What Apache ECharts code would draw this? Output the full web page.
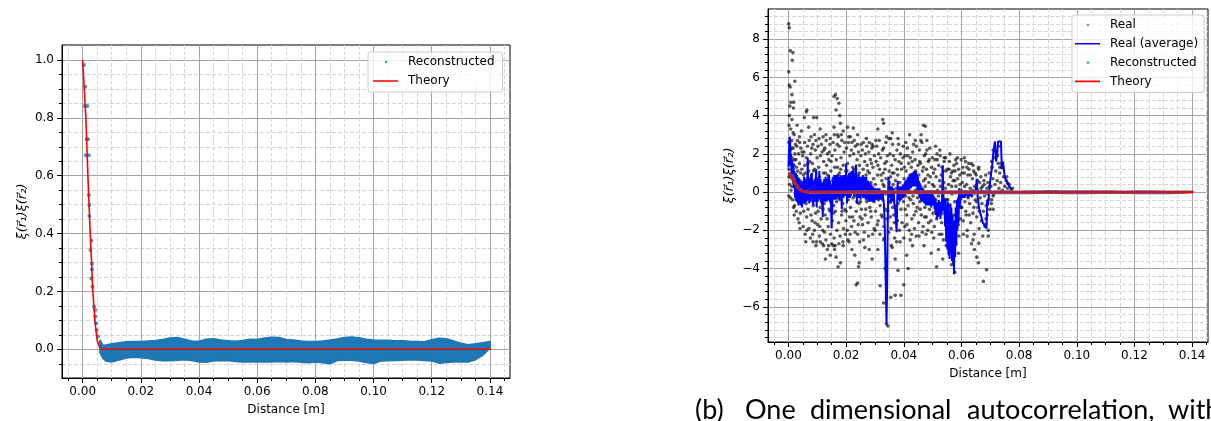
<!DOCTYPE html>
<html><head><meta charset="utf-8">
<script src="https://cdn.jsdelivr.net/npm/echarts@6/dist/echarts.min.js"></script>
<style>html,body{margin:0;padding:0;background:#fff;}#c{width:1211px;height:421px;}</style>
</head><body><div id="c"></div>
<script>
// ---------- tick values ----------
const xMajorTicks = [0, 0.02, 0.04, 0.06, 0.08, 0.10, 0.12, 0.14];
const xMinorTicks = [-0.005, 0.005, 0.01, 0.015, 0.025, 0.03, 0.035, 0.045, 0.05, 0.055, 0.065, 0.07, 0.075, 0.085, 0.09, 0.095, 0.105, 0.11, 0.115, 0.125, 0.13, 0.135, 0.145];
const yLeftMajorTicks = [0, 0.2, 0.4, 0.6, 0.8, 1.0];
const yLeftMinorTicks = [-0.05, 0.05, 0.1, 0.15, 0.25, 0.3, 0.35, 0.45, 0.5, 0.55, 0.65, 0.7, 0.75, 0.85, 0.9, 0.95];
const yRightMajorTicks = [-6, -4, -2, 0, 2, 4, 6, 8];
const yRightMinorTicks = [-7.6, -7.2, -6.8, -6.4, -5.6, -5.2, -4.8, -4.4, -3.6, -3.2, -2.8, -2.4, -1.6, -1.2, -0.8, -0.4, 0.4, 0.8, 1.2, 1.6, 2.4, 2.8, 3.2, 3.6, 4.4, 4.8, 5.2, 5.6, 6.4, 6.8, 7.2, 7.6, 8.4, 8.8, 9.2];

// ---------- Theory ----------
const theoryX = [0, 0.0011, 0.0018, 0.0026, 0.0035, 0.0043, 0.0050, 0.0058, 0.0066, 0.1405];
const theoryY = [1.0, 0.8, 0.6, 0.4, 0.2, 0.09, 0.03, 0.008, 0.0, 0.0];

// ---------- Reconstructed (steep part, individual points) ----------
const reconX = [0.00045, 0.0009, 0.0007, 0.0016, 0.0014, 0.0018, 0.0011, 0.0021, 0.0021, 0.0023, 0.0023, 0.0030, 0.0027, 0.0032, 0.0032, 0.0030, 0.0034, 0.0039, 0.0043, 0.0043, 0.0046, 0.0048, 0.0053, 0.0059];
const reconY = [0.983, 0.908, 0.841, 0.841, 0.726, 0.726, 0.671, 0.671, 0.533, 0.499, 0.461, 0.375, 0.343, 0.297, 0.276, 0.245, 0.216, 0.147, 0.136, 0.113, 0.090, 0.067, 0.044, 0.021];

// ---------- Reconstructed (dense band: upper / lower envelope of the points) ----------
const bandX = [0.0060, 0.0070, 0.0080, 0.0100, 0.0125, 0.0150, 0.0175, 0.0200, 0.0225, 0.0250, 0.0275, 0.0300, 0.0325, 0.0350, 0.0375, 0.0400, 0.0425, 0.0450, 0.0475, 0.0500, 0.0525, 0.0550, 0.0575, 0.0600, 0.0625, 0.0650, 0.0675, 0.0700, 0.0725, 0.0750, 0.0775, 0.0800, 0.0825, 0.0850, 0.0875, 0.0900, 0.0925, 0.0950, 0.0975, 0.1000, 0.1025, 0.1050, 0.1075, 0.1100, 0.1125, 0.1150, 0.1175, 0.1200, 0.1225, 0.1250, 0.1275, 0.1300, 0.1325, 0.1350, 0.1375, 0.1400];
const bandUpper = [0.030, 0.012, 0.014, 0.018, 0.022, 0.025, 0.026, 0.026, 0.028, 0.030, 0.033, 0.038, 0.040, 0.034, 0.028, 0.027, 0.034, 0.036, 0.031, 0.029, 0.027, 0.030, 0.034, 0.033, 0.038, 0.041, 0.040, 0.033, 0.031, 0.028, 0.026, 0.026, 0.028, 0.031, 0.035, 0.040, 0.042, 0.039, 0.034, 0.031, 0.030, 0.030, 0.029, 0.029, 0.027, 0.026, 0.025, 0.032, 0.037, 0.036, 0.028, 0.020, 0.015, 0.018, 0.022, 0.026];
const bandLower = [-0.010, -0.030, -0.040, -0.043, -0.036, -0.029, -0.027, -0.028, -0.031, -0.036, -0.039, -0.039, -0.037, -0.035, -0.038, -0.043, -0.044, -0.040, -0.038, -0.039, -0.041, -0.043, -0.043, -0.042, -0.043, -0.043, -0.041, -0.043, -0.041, -0.044, -0.046, -0.043, -0.046, -0.049, -0.038, -0.037, -0.037, -0.040, -0.045, -0.048, -0.040, -0.039, -0.038, -0.037, -0.035, -0.036, -0.038, -0.040, -0.047, -0.045, -0.043, -0.043, -0.043, -0.035, -0.020, 0.004];

// ---------- Real (individual correlation samples): dense core ----------
const realCore = [
[0.0001,2.6],[0.0003,1.9],[0.0002,1.2],[0.0004,0.4],[0.0001,-0.2],[0.0006,2.2],[0.0008,1.5],[0.0007,0.8],[0.0009,0.1],[0.0011,2.7],[0.0012,1.8],[0.0013,1.0],[0.0014,-0.4],[0.0016,2.3],[0.0017,0.5],[0.0019,1.4],[0.0021,-0.7],[0.0022,2.0],[0.0023,0.9],[0.0024,-0.1],
[0.0026,1.7],[0.0027,-1.0],[0.0029,2.4],[0.0030,0.3],[0.0032,1.1],[0.0033,-1.4],[0.0035,2.0],[0.0036,-0.3],[0.0038,1.5],[0.0040,0.6],[0.0041,-1.1],[0.0043,2.3],[0.0045,-0.6],[0.0046,1.2],[0.0048,0.0],[0.0049,1.9],
[0.0051,-1.8],[0.0052,0.9],[0.0054,2.1],[0.0055,-0.5],[0.0057,1.4],[0.0058,-2.2],[0.0060,0.2],[0.0062,1.8],[0.0063,-1.3],[0.0065,0.7],[0.0066,2.4],[0.0068,-0.9],[0.0070,1.1],[0.0071,-1.9],[0.0073,0.4],[0.0074,1.6],
[0.0076,-2.4],[0.0077,2.0],[0.0079,-0.2],[0.0080,0.9],[0.0082,-1.5],[0.0083,1.5],[0.0085,2.5],[0.0086,-0.7],[0.0088,0.3],[0.0090,-2.0],[0.0091,1.2],[0.0093,2.2],[0.0094,-1.1],[0.0096,0.6],[0.0098,-0.3],[0.0099,1.8],
[0.0101,-1.7],[0.0102,2.4],[0.0104,0.1],[0.0105,1.3],[0.0107,-2.3],[0.0108,0.8],[0.0110,-0.8],[0.0111,1.9],[0.0113,-1.4],[0.0115,0.4],[0.0116,2.1],[0.0118,-0.1],[0.0119,-2.0],[0.0121,1.0],[0.0122,1.6],[0.0124,-0.6],
[0.0126,2.3],[0.0127,-1.2],[0.0129,0.5],[0.0130,-2.5],[0.0132,1.4],[0.0133,-0.4],[0.0135,2.0],[0.0136,0.9],[0.0138,-1.8],[0.0140,1.7],[0.0141,-0.9],[0.0143,0.2],[0.0144,2.5],[0.0146,-2.2],[0.0147,1.1],[0.0149,-0.2],
[0.0151,1.9],[0.0152,-1.5],[0.0154,0.6],[0.0155,2.6],[0.0157,-0.7],[0.0158,-2.4],[0.0160,1.3],[0.0161,2.2],[0.0163,-1.0],[0.0165,0.3],[0.0166,1.7],[0.0168,-2.0],[0.0169,2.5],[0.0171,-0.3],[0.0172,0.9],[0.0174,-1.6],
[0.0176,2.4],[0.0177,1.0],[0.0179,-2.3],[0.0180,0.0],[0.0182,1.8],[0.0184,-1.2],[0.0185,2.7],[0.0187,0.5],[0.0188,-0.6],[0.0190,1.4],[0.0191,-1.9],[0.0193,2.1],[0.0194,0.2],[0.0196,-0.9],[0.0198,1.1],[0.0199,-1.5],
[0.0201,2.3],[0.0202,0.7],[0.0204,-2.0],[0.0205,1.5],[0.0207,-0.4],[0.0208,2.6],[0.0210,0.1],[0.0212,-1.3],[0.0213,1.9],[0.0215,-0.8],[0.0216,1.0],[0.0218,2.2],[0.0219,-1.8],[0.0221,0.4],[0.0223,1.3],[0.0224,-0.3],
[0.0226,2.0],[0.0227,-1.5],[0.0229,0.8],[0.0230,-0.2],[0.0232,2.4],[0.0233,1.2],[0.0235,-1.0],[0.0236,0.3],[0.0238,1.7],[0.0240,-2.2],[0.0241,0.9],[0.0243,2.1],[0.0244,-0.6],[0.0246,1.4],[0.0248,-1.3],[0.0249,0.0],
[0.0251,1.9],[0.0253,-0.9],[0.0254,0.6],[0.0256,2.2],[0.0257,-1.7],[0.0259,1.2],[0.0261,-0.2],[0.0262,0.3],[0.0264,1.6],[0.0266,-1.2],[0.0267,2.0],[0.0269,0.9],[0.0271,-0.5],[0.0273,1.4],
[0.0276,-1.6],[0.0277,0.2],[0.0279,2.1],[0.0281,1.0],[0.0282,-0.8],[0.0284,1.7],[0.0286,0.5],[0.0287,-1.3],[0.0289,2.3],[0.0291,-0.1],[0.0293,1.3],[0.0295,0.7],[0.0297,-1.9],[0.0298,1.9],
[0.0301,0.4],[0.0302,-1.0],[0.0304,1.6],[0.0306,2.4],[0.0307,-0.3],[0.0309,0.9],[0.0311,-1.5],[0.0313,2.0],[0.0314,0.1],[0.0316,1.2],[0.0318,-0.7],[0.0320,1.8],[0.0322,-1.2],[0.0324,0.6],
[0.0326,2.2],[0.0327,-0.4],[0.0329,1.0],[0.0331,-1.8],[0.0332,0.3],[0.0334,1.5],[0.0336,-0.9],[0.0338,2.6],[0.0339,0.7],[0.0341,-1.4],[0.0343,1.9],[0.0345,0.0],[0.0347,-2.1],[0.0349,1.1],
[0.0351,-0.5],[0.0352,2.0],[0.0354,0.8],[0.0356,-1.9],[0.0358,1.4],[0.0359,-0.2],[0.0361,2.5],[0.0363,0.4],[0.0365,-1.2],[0.0366,1.0],[0.0368,-2.4],[0.0370,1.7],[0.0372,-0.7],[0.0374,0.2],
[0.0376,2.2],[0.0378,-1.5],[0.0379,0.9],[0.0381,-0.3],[0.0383,1.6],[0.0385,-2.0],[0.0386,0.5],[0.0388,2.0],[0.0390,-0.9],[0.0392,1.2],[0.0394,-1.6],[0.0395,0.1],[0.0397,1.8],[0.0399,-0.5],
[0.0401,0.7],[0.0403,-1.8],[0.0404,1.9],[0.0406,-0.2],[0.0408,1.1],[0.0410,-1.2],[0.0412,2.3],[0.0413,0.3],[0.0415,-0.7],[0.0417,1.5],[0.0419,-2.0],[0.0421,0.9],[0.0423,1.8],[0.0424,-0.4],
[0.0426,1.3],[0.0428,-1.4],[0.0430,0.4],[0.0431,2.1],[0.0433,-0.6],[0.0435,1.0],[0.0437,-1.9],[0.0439,1.7],[0.0440,0.1],[0.0442,-1.0],[0.0444,2.4],[0.0446,0.6],[0.0448,-0.3],[0.0449,1.4],
[0.0451,-1.6],[0.0452,0.9],[0.0454,2.2],[0.0456,-0.5],[0.0458,1.5],[0.0460,0.2],[0.0461,-1.2],[0.0463,2.6],[0.0465,1.1],[0.0467,-1.8],[0.0469,0.6],[0.0471,1.9],[0.0473,-0.8],[0.0474,0.3],
[0.0476,2.0],[0.0478,-1.3],[0.0479,1.2],[0.0481,0.0],[0.0483,-2.0],[0.0485,1.6],[0.0487,0.5],[0.0489,-0.9],[0.0490,2.3],[0.0492,0.8],[0.0494,-1.5],[0.0496,1.3],[0.0498,-0.2],[0.0499,1.8],
[0.0501,-1.1],[0.0503,1.0],[0.0505,0.3],[0.0506,-1.8],[0.0508,1.7],[0.0510,-0.4],[0.0512,0.8],[0.0514,-1.4],[0.0515,2.0],[0.0517,0.1],[0.0519,-0.8],[0.0521,1.4],[0.0523,-2.2],[0.0524,0.6],
[0.0526,1.9],[0.0528,-0.6],[0.0530,0.9],[0.0531,-1.6],[0.0533,1.3],[0.0535,-0.2],[0.0537,-2.5],[0.0539,0.5],[0.0540,1.6],[0.0542,-1.1],[0.0544,0.2],[0.0546,1.1],[0.0548,-1.9],[0.0549,-0.4],
[0.0551,1.2],[0.0553,-1.3],[0.0555,0.4],[0.0556,-2.6],[0.0558,1.6],[0.0560,-0.7],[0.0562,0.8],[0.0564,-1.9],[0.0565,1.0],[0.0567,-0.1],[0.0569,-3.0],[0.0571,0.6],[0.0573,-1.2],[0.0574,1.4],
[0.0576,-0.5],[0.0578,1.1],[0.0580,-2.2],[0.0581,0.3],[0.0583,1.5],[0.0585,-1.0],[0.0587,0.7],[0.0589,-1.7],[0.0590,1.2],[0.0592,-0.3],[0.0594,0.9],[0.0596,-1.4],[0.0598,0.1],[0.0599,1.7],
[0.0601,-0.8],[0.0603,0.5],[0.0605,1.3],[0.0606,-1.5],[0.0608,0.0],[0.0610,1.0],[0.0612,-0.5],[0.0614,1.6],[0.0616,-1.2],[0.0618,0.4],[0.0620,-2.0],[0.0622,0.9],
[0.0626,1.2],[0.0628,-0.6],[0.0630,0.2],[0.0632,-1.6],[0.0634,1.5],[0.0636,-0.2],[0.0638,0.7],[0.0640,-1.1],[0.0642,1.1],[0.0644,-2.2],[0.0646,0.3],[0.0648,-0.4],
[0.0651,0.9],[0.0653,-1.3],[0.0655,0.1],[0.0657,-0.8],[0.0659,1.2],[0.0661,-1.9],[0.0663,0.5],[0.0665,-0.3],[0.0667,0.8],[0.0669,-1.5],[0.0671,-0.6],[0.0673,0.3],
[0.0676,-1.0],[0.0678,0.6],[0.0680,-0.2],[0.0682,-1.7],[0.0684,0.9],[0.0686,-0.7],[0.0688,0.2],[0.0690,-1.2],[0.0692,0.5],[0.0694,-0.4],[0.0696,1.0],[0.0698,-0.9],
[0.0702,0.3],[0.0704,-0.6],[0.0706,1.3],[0.0709,0.7],[0.0711,-0.1],[0.0713,1.8],[0.0716,0.4],[0.0719,1.1],[0.0722,2.0],[0.0724,0.6],[0.0727,1.5],[0.0730,0.2],[0.0733,1.0],[0.0736,0.5],[0.0739,1.3],[0.0742,0.1],[0.0746,0.8],[0.0750,0.3],[0.0755,0.6],[0.0760,0.2],[0.0766,0.4],[0.0772,0.1],[0.0777,0.2]
];
// ---------- Real: more core samples ----------
const realCore2 = [
[0.0002,0.8],[0.0005,1.6],[0.0007,-0.3],[0.0010,2.3],[0.0012,0.3],[0.0015,1.2],[0.0018,-0.8],[0.0020,1.7],[0.0024,2.5],
[0.0026,-0.4],[0.0028,1.3],[0.0031,2.7],[0.0034,0.7],[0.0037,-1.6],[0.0039,2.6],[0.0042,1.0],[0.0044,-0.2],[0.0047,2.1],
[0.0050,0.5],[0.0053,-1.0],[0.0056,2.6],[0.0059,1.0],[0.0061,-0.6],[0.0064,-2.0],[0.0067,1.5],[0.0069,0.0],[0.0072,2.7],
[0.0075,0.5],[0.0078,-1.2],[0.0081,2.3],[0.0084,-2.2],[0.0087,1.1],[0.0089,-0.2],[0.0092,-1.6],[0.0095,2.7],[0.0097,-2.6],
[0.0100,0.7],[0.0103,-1.0],[0.0106,2.8],[0.0109,-1.8],[0.0112,0.0],[0.0114,2.5],[0.0117,-2.7],[0.0120,-0.9],[0.0123,2.2],
[0.0125,-2.1],[0.0128,1.0],[0.0131,2.7],[0.0134,-1.4],[0.0137,0.0],[0.0139,-2.8],[0.0142,2.1],[0.0145,-1.0],[0.0148,1.6],
[0.0150,-2.7],[0.0153,0.2],[0.0156,-1.1],[0.0159,3.0],[0.0162,-2.8],[0.0164,0.8],[0.0167,-0.5],[0.0170,1.3],[0.0173,2.9],
[0.0175,-2.7],[0.0178,-0.4],[0.0181,1.2],[0.0183,3.0],[0.0186,-1.0],[0.0189,-2.6],[0.0192,0.8],[0.0195,2.6],[0.0197,-2.2],
[0.0200,-1.0],[0.0203,1.1],[0.0206,-2.5],[0.0209,2.9],[0.0211,-0.1],[0.0214,-2.2],[0.0217,0.5],[0.0220,2.6],[0.0222,-1.3],
[0.0225,0.2],[0.0228,2.7],[0.0231,-2.1],[0.0234,0.6],[0.0237,-0.5],[0.0239,2.5],[0.0242,-1.7],[0.0245,1.0],[0.0247,-2.6],
[0.0250,-0.5],[0.0252,2.5],[0.0255,-1.4],[0.0258,0.0],[0.0260,2.6],[0.0263,-2.1],[0.0265,0.7],[0.0268,-0.9],[0.0272,2.4],
[0.0275,1.1],[0.0278,-2.3],[0.0280,2.6],[0.0283,0.3],[0.0285,-1.0],[0.0288,1.5],[0.0292,-2.2],[0.0294,2.4],[0.0296,-0.5],
[0.0300,-2.0],[0.0303,2.7],[0.0305,0.0],[0.0308,-1.7],[0.0310,1.4],[0.0312,-0.4],[0.0315,2.7],[0.0317,-2.2],[0.0321,0.9],
[0.0325,-1.3],[0.0328,0.4],[0.0330,2.3],[0.0333,-2.4],[0.0335,1.2],[0.0337,-0.1],[0.0340,1.6],[0.0344,-1.0],[0.0348,2.8],
[0.0350,0.5],[0.0353,-1.3],[0.0355,2.8],[0.0357,-2.8],[0.0360,1.0],[0.0362,-0.8],[0.0364,1.9],[0.0367,-1.6],[0.0371,0.6],
[0.0375,-2.6],[0.0377,1.2],[0.0380,-0.6],[0.0382,2.5],[0.0384,0.2],[0.0387,-2.6],[0.0391,1.5],[0.0393,-0.2],[0.0398,2.4],
[0.0400,-2.4],[0.0402,1.3],[0.0405,-0.9],[0.0407,2.6],[0.0409,0.0],[0.0411,-1.7],[0.0414,1.9],[0.0418,-0.3],[0.0422,-2.5],
[0.0425,0.8],[0.0427,-2.2],[0.0429,1.6],[0.0432,-0.2],[0.0434,2.5],[0.0436,-1.2],[0.0441,1.1],[0.0443,-2.3],[0.0447,-0.8],
[0.0450,0.5],[0.0453,-2.3],[0.0455,1.6],[0.0457,-0.9],[0.0459,2.7],[0.0462,0.0],[0.0464,-2.1],[0.0468,1.3],[0.0472,-1.3],
[0.0475,0.7],[0.0477,-2.2],[0.0480,2.2],[0.0482,-0.5],[0.0484,0.9],[0.0486,-1.6],[0.0488,1.7],[0.0493,-0.4],[0.0497,-2.1],
[0.0500,0.4],[0.0504,-2.4],[0.0507,1.2],[0.0511,-1.0],[0.0516,1.7],[0.0520,-0.2],
[0.0527,0.3],[0.0532,-2.2],[0.0536,1.1],[0.0541,-0.9],[0.0545,1.8],[0.0547,-2.8],
[0.0552,-0.4],[0.0557,1.2],[0.0561,-2.4],[0.0566,0.3],[0.0570,1.1],[0.0572,-2.0],
[0.0577,0.6],[0.0582,-1.5],[0.0586,1.8],[0.0591,-2.3],[0.0595,0.4],[0.0597,-0.8],
[0.0602,1.0],[0.0607,-2.2],[0.0611,0.3],[0.0615,-1.0],[0.0619,1.3],[0.0623,-0.3],
[0.0627,-1.2],[0.0631,0.9],[0.0635,-2.7],[0.0639,0.1],[0.0643,-0.8],[0.0647,1.0],
[0.0652,-0.5],[0.0656,0.6],[0.0662,-1.0],[0.0668,0.2],[0.0674,-2.3],[0.0679,0.4],[0.0685,-1.4],[0.0691,-0.1],[0.0697,0.3]
];
// ---------- Real: scattered outliers ----------
const realOutliers = [
[0.0001,8.8],[0.0003,8.6],[0.0006,7.4],[0.0015,7.3],[0.0013,6.9],[0.0001,6.3],[0.0022,5.8],[0.0003,5.6],[0.0006,5.5],[0.0012,5.1],[0.0008,4.7],[0.0018,4.7],[0.0005,4.5],[0.0017,4.4],[0.0003,4.0],[0.0012,3.8],[0.0002,3.5],[0.0008,3.3],[0.0016,3.1],[0.0020,3.0],
[0.0064,4.3],[0.0062,4.2],[0.0055,3.9],[0.0087,3.9],[0.0098,3.9],[0.0030,3.5],[0.0070,3.4],[0.0045,3.2],[0.0090,3.0],[0.0078,2.9],[0.0038,2.9],
[0.0085,-2.6],[0.0095,-2.8],[0.0060,-2.6],[0.0040,-1.9],[0.0020,-1.2],
[0.0110,3.3],[0.0130,3.0],[0.0145,2.8],[0.0120,2.9],[0.0110,-2.6],[0.0135,-3.0],[0.0145,-3.3],[0.0122,-2.8],[0.0128,-3.5],
[0.0158,5.0],[0.0163,5.1],[0.0169,4.9],[0.0175,4.65],[0.0165,4.3],[0.0178,4.0],[0.0180,3.6],[0.0158,3.4],[0.0190,3.2],[0.0170,3.0],[0.0160,-3.0],[0.0165,-3.4],[0.0172,-3.9],[0.0180,-3.7],[0.0190,-2.8],[0.0155,-2.8],
[0.0205,3.4],[0.0225,3.35],[0.0215,2.9],[0.0240,3.0],[0.0243,-3.9],[0.0245,-3.7],[0.0240,-4.75],[0.0235,-4.85],[0.0220,-3.0],[0.0210,-2.6],[0.0230,-3.3],
[0.0270,2.8],[0.0290,2.5],[0.0260,-2.5],[0.0280,-3.0],[0.0290,-3.5],[0.0265,-2.9],
[0.0327,3.8],[0.0330,3.6],[0.0310,3.3],[0.0340,2.9],[0.0318,-4.9],[0.0330,-5.8],[0.0340,-5.5],[0.0340,-6.9],[0.0345,-7.0],[0.0310,-3.0],[0.0330,-2.5],[0.0335,-4.0],
[0.0360,3.1],[0.0380,2.8],[0.0380,-4.1],[0.0400,-4.85],[0.0390,-5.4],[0.0355,-5.5],[0.0370,-5.4],[0.0370,-3.5],[0.0360,-2.9],
[0.0420,3.0],[0.0440,2.7],[0.0410,-3.3],[0.0430,-2.8],[0.0415,-4.0],
[0.0468,3.5],[0.0475,3.45],[0.0460,3.0],[0.0480,2.7],[0.0470,-2.8],[0.0495,-3.2],
[0.0510,2.4],[0.0525,2.2],[0.0540,1.8],[0.0520,-3.0],[0.0514,-3.9],[0.0535,-3.5],
[0.0560,2.0],[0.0580,1.7],[0.0565,-3.8],[0.0577,-4.2],[0.0590,-3.2],[0.0580,-2.7],
[0.0610,1.8],[0.0625,1.5],[0.0640,1.4],[0.0640,-2.5],[0.0645,-3.0],[0.0620,-2.3],
[0.0660,1.3],[0.0676,-4.67],[0.0687,-4.06],[0.0659,-3.7],[0.0653,-3.4],[0.0660,-2.67],[0.0693,-2.0],[0.0693,-2.3],[0.0682,-1.8],
[0.0710,2.2],[0.0705,1.6],[0.0733,1.3],[0.0737,1.5],[0.0757,0.8],[0.0760,0.47],[0.0710,-0.2],[0.0705,-0.4],[0.0710,-0.9],[0.0725,1.9],[0.0728,2.4]
];

// ---------- Real (average) ----------
const realAvg = [
[0.0000,1.3],[0.0002,2.2],[0.0004,2.9],[0.0006,2.7],[0.0007,1.4],[0.0009,2.0],[0.0011,0.8],[0.0013,1.7],[0.0015,0.6],[0.0017,1.5],[0.0019,0.2],[0.0021,1.1],
[0.0023,-0.3],[0.0024,0.9],[0.0025,-0.2],[0.0026,1.0],[0.0027,-0.4],[0.0028,0.8],[0.0029,-0.5],[0.0030,0.9],[0.0031,-0.4],[0.0032,0.6],[0.0033,-0.6],[0.0034,0.5],[0.0035,-0.7],[0.0036,0.7],[0.0037,-0.4],[0.0038,0.3],[0.0039,-0.6],[0.0040,0.5],[0.0041,-0.3],[0.0042,0.6],[0.0043,-0.7],[0.0044,0.2],[0.0045,-0.5],[0.0046,0.4],[0.0047,-0.8],[0.0048,0.3],[0.0049,-0.4],[0.0050,0.5],[0.0051,-0.5],[0.0052,0.6],[0.0053,-0.3],[0.0054,0.8],[0.0055,-0.6],[0.0056,0.5],[0.0057,-0.4],[0.0058,0.6],[0.0059,-0.5],[0.0060,0.7],[0.0061,-0.3],[0.0062,0.5],[0.0063,-0.5],[0.0064,0.6],[0.0065,-0.2],[0.0066,0.9],[0.0067,1.8],[0.0068,0.3],[0.0069,0.8],[0.0070,-0.4],[0.0071,0.5],[0.0072,-0.6],[0.0073,0.6],[0.0074,-0.3],[0.0075,0.7],[0.0076,-0.5],[0.0077,0.8],[0.0078,-0.2],[0.0079,0.9],[0.0080,0.1],[0.0081,1.0],[0.0082,-0.3],[0.0083,0.6],[0.0084,-0.6],[0.0085,0.4],[0.0086,-0.7],[0.0087,0.5],[0.0088,-0.4],[0.0089,0.6],[0.0090,-0.3],[0.0091,0.7],[0.0092,-0.5],[0.0093,0.5],[0.0094,-0.2],[0.0095,0.8],[0.0096,1.2],[0.0097,-0.3],[0.0098,-0.8],[0.0099,0.4],[0.0100,-0.4],[0.0101,0.6],[0.0102,-0.5],[0.0103,0.5],[0.0104,-0.3],[0.0105,0.7],[0.0106,0.2],[0.0107,1.1],[0.0108,-0.2],[0.0109,0.6],[0.0110,-0.4],[0.0111,0.7],[0.0112,-0.5],[0.0113,0.4],[0.0114,-0.6],[0.0115,0.5],[0.0116,-0.7],[0.0117,0.3],[0.0118,-0.8],[0.0119,-1.3],[0.0120,0.2],[0.0121,-0.4],[0.0122,0.6],[0.0123,-0.3],[0.0124,0.7],[0.0125,-0.5],[0.0126,0.6],[0.0128,-0.4],[0.0129,0.8],[0.0131,-0.5],[0.0132,0.6],[0.0134,-0.3],[0.0135,0.7],[0.0137,-0.4],[0.0138,0.8],[0.0140,-0.3],[0.0141,0.9],[0.0143,-0.5],[0.0144,0.6],[0.0146,-0.6],[0.0147,0.4],[0.0148,-0.9],[0.0150,-1.9],[0.0151,-0.2],[0.0152,-1.0],[0.0153,0.5],[0.0154,-0.3],[0.0155,0.8],[0.0156,-0.2],[0.0157,0.7],[0.0158,-0.4],[0.0159,0.9],[0.0160,-0.3],[0.0161,0.8],[0.0162,-0.2],[0.0163,0.6],[0.0164,-0.4],[0.0165,0.9],[0.0166,-0.1],[0.0167,0.8],[0.0168,-0.3],[0.0169,0.7],[0.0170,-0.2],[0.0171,0.9],[0.0172,0.0],[0.0173,0.8],[0.0174,-0.3],[0.0175,0.7],[0.0176,-0.4],[0.0177,0.6],[0.0178,-0.2],[0.0179,0.8],[0.0180,-0.3],[0.0181,0.9],[0.0182,0.0],[0.0183,0.7],[0.0184,-0.4],[0.0185,-0.9],[0.0186,0.3],[0.0187,-0.2],[0.0188,0.8],[0.0189,-0.1],[0.0190,0.9],[0.0191,-0.3],[0.0192,0.7],[0.0193,-0.2],[0.0194,0.8],[0.0195,0.0],[0.0196,0.9],[0.0197,-0.2],[0.0198,0.7],[0.0199,0.1],[0.0200,1.5],[0.0201,0.2],[0.0202,0.8],[0.0203,-0.6],[0.0204,0.5],[0.0205,-0.2],[0.0206,0.8],[0.0207,-0.3],[0.0208,0.9],[0.0209,0.0],[0.0210,1.0],[0.0211,-0.1],[0.0212,0.8],[0.0213,-0.3],[0.0214,0.9],[0.0215,0.0],[0.0216,1.0],[0.0217,-0.2],[0.0218,0.9],[0.0219,0.0],[0.0220,1.1],[0.0221,-0.1],[0.0222,0.9],[0.0223,0.1],[0.0225,1.25],[0.0226,0.0],[0.0227,0.9],[0.0228,-0.2],[0.0229,1.0],[0.0230,0.0],[0.0231,0.8],[0.0232,-0.1],[0.0233,0.9],[0.0234,1.45],[0.0235,0.1],[0.0236,0.7],[0.0237,-0.3],[0.0238,-0.6],[0.0239,0.6],[0.0240,-0.2],[0.0241,0.8],[0.0242,-0.3],[0.0243,0.9],[0.0244,-0.1],[0.0245,0.8],[0.0246,-0.2],[0.0247,0.7],[0.0248,-0.3],[0.0249,0.8],[0.0250,-0.4],[0.0252,0.7],[0.0253,-0.2],[0.0255,0.8],[0.0256,-0.1],[0.0258,0.9],[0.0259,-0.3],[0.0261,0.7],[0.0262,-0.2],[0.0264,0.8],[0.0265,-0.3],[0.0267,0.7],[0.0268,-0.4],[0.0270,0.8],[0.0271,-0.3],[0.0273,0.6],[0.0274,-0.4],[0.0276,0.6],[0.0277,-0.5],[0.0279,0.5],[0.0280,-0.5],[0.0282,0.5],[0.0283,-0.4],[0.0285,0.4],[0.0286,-0.5],[0.0288,0.4],[0.0289,-0.4],[0.0291,0.3],[0.0292,-0.5],[0.0294,0.3],[0.0295,-0.5],[0.0297,0.2],[0.0298,-0.5],[0.0300,0.2],[0.0301,-0.4],[0.0303,0.2],[0.0304,-0.4],[0.0306,0.2],[0.0307,-0.3],[0.0309,0.2],[0.0310,-0.4],[0.0312,0.1],[0.0313,-0.4],[0.0315,0.2],[0.0316,-0.3],[0.0318,0.1],[0.0319,-0.4],[0.0321,0.1],[0.0322,-0.4],[0.0324,0.0],[0.0325,-0.3],[0.0327,0.0],[0.0328,-0.3],[0.0331,-0.6],
[0.0334,-1.8],[0.0337,-4.5],[0.0340,-6.9],[0.0342,-5.0],[0.0344,-2.0],[0.0346,0.3],[0.0347,0.8],
[0.0349,-0.3],[0.0350,0.4],[0.0352,-0.2],[0.0353,0.3],[0.0355,-0.6],[0.0356,0.2],[0.0358,-0.4],[0.0359,0.3],[0.0361,-0.5],[0.0362,0.2],[0.0364,-0.3],[0.0365,0.2],[0.0367,-0.6],[0.0370,-0.9],[0.0373,-1.6],[0.0375,-2.1],[0.0377,-0.6],[0.0379,0.6],[0.0380,-0.4],[0.0382,0.3],[0.0383,-0.4],[0.0385,0.3],[0.0386,-0.5],[0.0388,0.2],[0.0389,-0.4],[0.0391,0.3],[0.0392,-0.4],[0.0394,0.3],[0.0395,-0.3],[0.0397,0.4],[0.0398,-0.3],[0.0400,0.4],[0.0401,-0.2],[0.0403,0.5],[0.0404,-0.2],[0.0406,0.6],[0.0407,-0.1],[0.0409,0.6],[0.0410,0.0],[0.0412,0.7],[0.0413,0.0],[0.0415,0.8],[0.0416,0.1],[0.0418,0.8],[0.0419,0.1],[0.0421,0.9],[0.0422,0.2],[0.0424,0.9],[0.0425,0.2],[0.0427,1.0],[0.0428,0.3],[0.0430,1.0],[0.0431,0.3],[0.0433,1.0],[0.0434,0.3],[0.0436,1.1],[0.0437,0.4],[0.0439,1.0],[0.0440,0.3],[0.0442,1.1],[0.0444,0.4],[0.0446,0.9],[0.0447,0.1],[0.0449,0.8],[0.0450,0.0],[0.0452,0.6],[0.0453,-0.2],[0.0455,0.5],[0.0456,-0.3],[0.0458,0.4],[0.0459,-0.4],[0.0461,0.3],[0.0462,-0.5],[0.0464,0.2],[0.0465,-0.5],[0.0467,0.2],[0.0468,-0.5],[0.0470,0.1],[0.0471,-0.6],[0.0473,0.1],[0.0474,-0.6],[0.0476,0.0],[0.0477,-0.7],[0.0479,0.0],[0.0480,-0.6],[0.0482,-0.1],[0.0483,-0.7],[0.0485,0.0],[0.0486,-0.6],[0.0488,0.1],[0.0489,-0.7],[0.0491,0.0],[0.0492,-0.6],[0.0494,0.1],[0.0495,-0.8],[0.0497,0.0],[0.0498,-0.6],[0.0500,0.1],[0.0501,-0.7],
[0.0504,-0.2],[0.0507,-0.9],[0.0509,-0.3],[0.0511,-1.2],[0.0513,-0.5],[0.0515,-1.4],[0.0517,-0.6],[0.0519,-1.3],[0.0521,-0.4],[0.0523,-1.1],[0.0525,-0.5],[0.0527,-1.4],[0.0529,-0.6],[0.0531,-1.2],[0.0533,-0.3],[0.0535,1.4],[0.0537,-0.2],[0.0539,-1.0],[0.0541,-0.3],[0.0543,-1.8],[0.0545,-0.4],[0.0547,-2.6],[0.0549,-0.7],[0.0551,-3.0],[0.0553,-0.5],[0.0555,-3.3],[0.0557,-1.0],[0.0559,-3.5],[0.0561,-0.6],[0.0563,-3.2],[0.0565,-0.8],[0.0567,-3.6],[0.0569,-1.2],[0.0571,-3.8],[0.0573,-1.5],[0.0574,-4.3],[0.0576,-2.0],[0.0578,-3.4],[0.0580,-0.8],[0.0582,-2.8],[0.0584,-0.4],[0.0586,-2.0],[0.0588,-0.3],[0.0590,-1.6],[0.0592,0.2],[0.0594,-0.8],[0.0596,0.0],[0.0599,-0.4],[0.0602,0.1],[0.0605,-0.3],[0.0608,0.0],[0.0611,-0.3],[0.0614,0.1],[0.0617,-0.2],[0.0620,0.0],[0.0623,-0.3],[0.0626,0.0],[0.0629,-0.2],[0.0632,0.1],[0.0635,-0.2],[0.0638,0.0],[0.0641,-0.1],[0.0644,0.1],[0.0647,-0.1],[0.0650,0.2],[0.0653,0.7],[0.0656,-0.2],[0.0659,-0.6],[0.0662,-0.9],[0.0665,-1.1],[0.0668,-1.2],[0.0671,-1.4],[0.0674,-1.6],[0.0677,-1.7],[0.0687,-1.9],[0.0689,-0.4],[0.0692,-0.7],[0.0695,-0.2],[0.0699,0.5],[0.0703,1.0],[0.0706,1.3],[0.0710,2.0],[0.0716,2.65],[0.0720,1.6],[0.0724,2.0],[0.0727,2.65],[0.0737,2.65],[0.0740,1.2],[0.0744,1.6],[0.0750,0.8],[0.0756,0.6],[0.0762,0.4],[0.0768,0.26],[0.0774,0.15]
];

const captionWords = ['(b)', 'One', 'dimensional', 'autocorrelation,', 'with'];
const captionLeft = [695, 745, 810, 967, 1168];

// ---------- build chart ----------
const FONT = 'DejaVu Sans';
const C0 = '#1f77b4';
const theoryPts = theoryX.map((x, i) => [x, theoryY[i]]);
const reconPts = reconX.map((x, i) => [x, reconY[i]]);
const realPts = realCore.concat(realCore2, realOutliers);

function majorXAxis(grid, min, max) {
  return {
    type: 'value', gridIndex: grid, min: min, max: max, position: 'bottom',
    axisLine: { show: true, onZero: false, lineStyle: { color: '#000', width: 1 } },
    axisTick: { show: true, customValues: xMajorTicks, length: 5, lineStyle: { color: '#000', width: 1 } },
    axisLabel: { customValues: xMajorTicks, formatter: v => v.toFixed(2), fontFamily: FONT, fontSize: 12, color: '#000', margin: 8 },
    splitLine: { show: true, lineStyle: { color: '#a4a4a4', width: 1 } },
    name: 'Distance [m]', nameLocation: 'middle', nameGap: 26, nameMoveOverlap: false,
    nameTextStyle: { fontFamily: FONT, fontSize: 12, color: '#000' }
  };
}
function minorXAxis(grid, min, max) {
  return {
    type: 'value', gridIndex: grid, min: min, max: max, position: 'bottom',
    axisLine: { show: false, onZero: false },
    axisTick: { show: true, customValues: xMinorTicks, length: 3, lineStyle: { color: '#000', width: 1 } },
    axisLabel: { show: false },
    splitLine: { show: true, lineStyle: { color: '#d6d6d6', width: 1, type: [4, 2] } }
  };
}
function majorYAxis(grid, min, max, ticks, fmt, gap) {
  return {
    type: 'value', gridIndex: grid, min: min, max: max, position: 'left',
    axisLine: { show: true, onZero: false, lineStyle: { color: '#000', width: 1 } },
    axisTick: { show: true, customValues: ticks, length: 5, lineStyle: { color: '#000', width: 1 } },
    axisLabel: { customValues: ticks, formatter: fmt, fontFamily: FONT, fontSize: 12, color: '#000', margin: 8 },
    splitLine: { show: true, lineStyle: { color: '#a4a4a4', width: 1 } },
    name: 'ξ(r\u20D7\u2081)ξ(r\u20D7\u2082)', nameLocation: 'middle', nameGap: gap, nameRotate: 90, nameMoveOverlap: false,
    nameTextStyle: { fontFamily: FONT, fontSize: 13, color: '#000', fontStyle: 'italic' }
  };
}
function minorYAxis(grid, min, max, ticks) {
  return {
    type: 'value', gridIndex: grid, min: min, max: max, position: 'left',
    axisLine: { show: false, onZero: false },
    axisTick: { show: true, customValues: ticks, length: 3, lineStyle: { color: '#000', width: 1 } },
    axisLabel: { show: false },
    splitLine: { show: true, lineStyle: { color: '#d6d6d6', width: 1, type: [4, 2] } }
  };
}
function bandSeries(xi, yi, lw) {
  return {
    type: 'custom', xAxisIndex: xi, yAxisIndex: yi, data: [[bandX[0], bandUpper[0]]], clip: true, silent: true, z: 4,
    renderItem: function (params, api) {
      const pts = [];
      for (let i = 0; i < bandX.length; i++) pts.push(api.coord([bandX[i], bandUpper[i]]));
      for (let i = bandX.length - 1; i >= 0; i--) pts.push(api.coord([bandX[i], bandLower[i]]));
      return { type: 'polygon', shape: { points: pts }, style: { fill: C0, stroke: C0, lineWidth: lw, lineJoin: 'round' } };
    }
  };
}
const BOX = 'M0 0L0.01 0Z M30 14L29.99 14Z ';
const dotIcon = 'path://' + BOX + 'M11.7 7a1.3 1.3 0 1 0 2.6 0a1.3 1.3 0 1 0 -2.6 0Z';
const lineIcon = 'path://' + BOX + 'M0 6.2L25 6.2L25 7.8L0 7.8Z';

const fmtL = v => v.toFixed(1);
const fmtR = v => (v < 0 ? '\u2212' : '') + Math.abs(v);

const option = {
  animation: false,
  backgroundColor: '#fff',
  grid: [
    { left: 62, top: 45, width: 448, height: 333, show: true, borderColor: '#000', borderWidth: 1, outerBoundsMode: 'none', containLabel: false },
    { left: 768, top: 9, width: 440, height: 333, show: true, borderColor: '#000', borderWidth: 1, outerBoundsMode: 'none', containLabel: false }
  ],
  xAxis: [
    majorXAxis(0, -0.0071, 0.1469),
    minorXAxis(0, -0.0071, 0.1469),
    majorXAxis(1, -0.0071, 0.1455),
    minorXAxis(1, -0.0071, 0.1455)
  ],
  yAxis: [
    majorYAxis(0, -0.0992, 1.0519, yLeftMajorTicks, fmtL, 33),
    minorYAxis(0, -0.0992, 1.0519, yLeftMinorTicks),
    majorYAxis(1, -7.84, 9.58, yRightMajorTicks, fmtR, 32),
    minorYAxis(1, -7.84, 9.58, yRightMinorTicks)
  ],
  legend: [
    {
      orient: 'vertical', left: 368, top: 52, itemWidth: 30, itemHeight: 14, itemGap: 5, selectedMode: false,
      padding: [3, 8, 4, 5], backgroundColor: 'rgba(255,255,255,0.8)', borderColor: '#cccccc', borderWidth: 1, borderRadius: 3,
      textStyle: { fontFamily: FONT, fontSize: 12, color: '#000', lineHeight: 14 },
      data: [{ name: 'Reconstructed', icon: dotIcon }, { name: 'Theory', icon: lineIcon }]
    },
    {
      orient: 'vertical', left: 1072, top: 15, itemWidth: 30, itemHeight: 14, itemGap: 4.8, selectedMode: false,
      padding: [3, 6, 4, 3], backgroundColor: 'rgba(255,255,255,0.8)', borderColor: '#cccccc', borderWidth: 1, borderRadius: 3,
      textStyle: { fontFamily: FONT, fontSize: 12, color: '#000', lineHeight: 14 },
      data: [{ name: 'Real', icon: dotIcon, itemStyle: { color: '#777' } }, { name: 'Real (average)', icon: lineIcon }, { name: 'Reconstructed', icon: dotIcon }, { name: 'Theory', icon: lineIcon }]
    }
  ],
  graphic: captionWords.map((w, i) => ({
    type: 'text', left: captionLeft[i], top: 397,
    style: { text: w, font: '27px Lato', fill: '#000' }
  })),
  series: [
    // left panel
    bandSeries(0, 0, 2),
    { name: 'Reconstructed', type: 'scatter', xAxisIndex: 0, yAxisIndex: 0, data: reconPts, symbol: 'circle', symbolSize: 4, itemStyle: { color: C0 }, z: 4 },
    { name: 'Theory', type: 'line', xAxisIndex: 0, yAxisIndex: 0, data: theoryPts, symbol: 'none', lineStyle: { color: '#ff0000', width: 1.6 }, itemStyle: { color: '#ff0000' }, z: 5 },
    // right panel
    { name: 'Real', type: 'scatter', xAxisIndex: 2, yAxisIndex: 2, data: realPts, symbol: 'circle', symbolSize: 3.6, itemStyle: { color: 'rgba(0,0,0,0.8)' }, z: 2 },
    { name: 'Real (average)', type: 'line', xAxisIndex: 2, yAxisIndex: 2, data: realAvg, symbol: 'none', lineStyle: { color: '#0000ff', width: 2 }, itemStyle: { color: '#0000ff' }, z: 3 },
    bandSeries(2, 2, 2.5),
    { name: 'Reconstructed', type: 'scatter', xAxisIndex: 2, yAxisIndex: 2, data: reconPts, symbol: 'circle', symbolSize: 3, itemStyle: { color: C0 }, z: 4 },
    { name: 'Theory', type: 'line', xAxisIndex: 2, yAxisIndex: 2, data: theoryPts, symbol: 'none', lineStyle: { color: '#ff0000', width: 2.2 }, itemStyle: { color: '#ff0000' }, z: 5 }
  ]
};
const chart = echarts.init(document.getElementById('c'));
chart.setOption(option);
</script>
</body></html>
